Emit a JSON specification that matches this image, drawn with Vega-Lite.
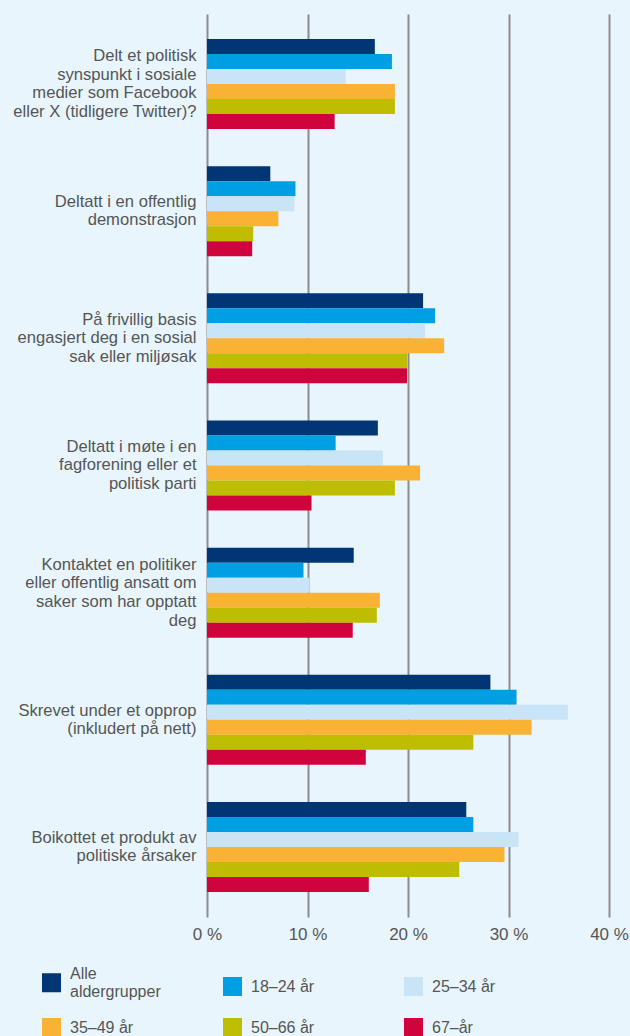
{
  "$schema": "https://vega.github.io/schema/vega-lite/v6.json",
  "autosize": "none",
  "width": 402,
  "height": 903,
  "padding": {"left": 207, "top": 14, "right": 21, "bottom": 119},
  "background": "#e8f5fc",
  "config": {
    "view": {"stroke": null},
    "font": "Liberation Sans",
    "axis": {"labelFont": "Liberation Sans", "labelColor": "#555555"},
    "legend": {"labelFont": "Liberation Sans", "labelColor": "#555555"}
  },
  "data": {
    "values": [
      {"q": "Delt et politisk|synspunkt i sosiale|medier som Facebook|eller X (tidligere Twitter)?", "g": "Alle aldergrupper", "v": 16.7},
      {"q": "Delt et politisk|synspunkt i sosiale|medier som Facebook|eller X (tidligere Twitter)?", "g": "18–24 år", "v": 18.4},
      {"q": "Delt et politisk|synspunkt i sosiale|medier som Facebook|eller X (tidligere Twitter)?", "g": "25–34 år", "v": 13.8},
      {"q": "Delt et politisk|synspunkt i sosiale|medier som Facebook|eller X (tidligere Twitter)?", "g": "35–49 år", "v": 18.7},
      {"q": "Delt et politisk|synspunkt i sosiale|medier som Facebook|eller X (tidligere Twitter)?", "g": "50–66 år", "v": 18.7},
      {"q": "Delt et politisk|synspunkt i sosiale|medier som Facebook|eller X (tidligere Twitter)?", "g": "67–år", "v": 12.7},
      {"q": "Deltatt i en offentlig|demonstrasjon", "g": "Alle aldergrupper", "v": 6.3},
      {"q": "Deltatt i en offentlig|demonstrasjon", "g": "18–24 år", "v": 8.8},
      {"q": "Deltatt i en offentlig|demonstrasjon", "g": "25–34 år", "v": 8.7},
      {"q": "Deltatt i en offentlig|demonstrasjon", "g": "35–49 år", "v": 7.1},
      {"q": "Deltatt i en offentlig|demonstrasjon", "g": "50–66 år", "v": 4.6},
      {"q": "Deltatt i en offentlig|demonstrasjon", "g": "67–år", "v": 4.5},
      {"q": "På frivillig basis|engasjert deg i en sosial|sak eller miljøsak", "g": "Alle aldergrupper", "v": 21.5},
      {"q": "På frivillig basis|engasjert deg i en sosial|sak eller miljøsak", "g": "18–24 år", "v": 22.7},
      {"q": "På frivillig basis|engasjert deg i en sosial|sak eller miljøsak", "g": "25–34 år", "v": 21.7},
      {"q": "På frivillig basis|engasjert deg i en sosial|sak eller miljøsak", "g": "35–49 år", "v": 23.6},
      {"q": "På frivillig basis|engasjert deg i en sosial|sak eller miljøsak", "g": "50–66 år", "v": 19.9},
      {"q": "På frivillig basis|engasjert deg i en sosial|sak eller miljøsak", "g": "67–år", "v": 19.9},
      {"q": "Deltatt i møte i en|fagforening eller et|politisk parti", "g": "Alle aldergrupper", "v": 17.0},
      {"q": "Deltatt i møte i en|fagforening eller et|politisk parti", "g": "18–24 år", "v": 12.8},
      {"q": "Deltatt i møte i en|fagforening eller et|politisk parti", "g": "25–34 år", "v": 17.5},
      {"q": "Deltatt i møte i en|fagforening eller et|politisk parti", "g": "35–49 år", "v": 21.2},
      {"q": "Deltatt i møte i en|fagforening eller et|politisk parti", "g": "50–66 år", "v": 18.7},
      {"q": "Deltatt i møte i en|fagforening eller et|politisk parti", "g": "67–år", "v": 10.4},
      {"q": "Kontaktet en politiker|eller offentlig ansatt om|saker som har opptatt|deg", "g": "Alle aldergrupper", "v": 14.6},
      {"q": "Kontaktet en politiker|eller offentlig ansatt om|saker som har opptatt|deg", "g": "18–24 år", "v": 9.6},
      {"q": "Kontaktet en politiker|eller offentlig ansatt om|saker som har opptatt|deg", "g": "25–34 år", "v": 10.2},
      {"q": "Kontaktet en politiker|eller offentlig ansatt om|saker som har opptatt|deg", "g": "35–49 år", "v": 17.2},
      {"q": "Kontaktet en politiker|eller offentlig ansatt om|saker som har opptatt|deg", "g": "50–66 år", "v": 16.9},
      {"q": "Kontaktet en politiker|eller offentlig ansatt om|saker som har opptatt|deg", "g": "67–år", "v": 14.5},
      {"q": "Skrevet under et opprop|(inkludert på nett)", "g": "Alle aldergrupper", "v": 28.2},
      {"q": "Skrevet under et opprop|(inkludert på nett)", "g": "18–24 år", "v": 30.8},
      {"q": "Skrevet under et opprop|(inkludert på nett)", "g": "25–34 år", "v": 35.9},
      {"q": "Skrevet under et opprop|(inkludert på nett)", "g": "35–49 år", "v": 32.3},
      {"q": "Skrevet under et opprop|(inkludert på nett)", "g": "50–66 år", "v": 26.5},
      {"q": "Skrevet under et opprop|(inkludert på nett)", "g": "67–år", "v": 15.8},
      {"q": "Boikottet et produkt av|politiske årsaker", "g": "Alle aldergrupper", "v": 25.8},
      {"q": "Boikottet et produkt av|politiske årsaker", "g": "18–24 år", "v": 26.5},
      {"q": "Boikottet et produkt av|politiske årsaker", "g": "25–34 år", "v": 31.0},
      {"q": "Boikottet et produkt av|politiske årsaker", "g": "35–49 år", "v": 29.6},
      {"q": "Boikottet et produkt av|politiske årsaker", "g": "50–66 år", "v": 25.1},
      {"q": "Boikottet et produkt av|politiske årsaker", "g": "67–år", "v": 16.1}
    ]
  },
  "mark": {"type": "bar"},
  "encoding": {
    "y": {
      "field": "q",
      "type": "nominal",
      "sort": null,
      "scale": {"paddingInner": 0.2923, "paddingOuter": 0.1966},
      "axis": {
        "title": null,
        "domain": false,
        "ticks": false,
        "labelExpr": "split(datum.label, '|')",
        "labelPadding": 11,
        "labelFontSize": 16.6,
        "labelLineHeight": 18.6,
        "labelLimit": 300,
        "labelAlign": "right",
        "labelBaseline": "middle",
        "labelOffset": {
          "condition": [
            {"test": "length(split(datum.label, '|')) == 4", "value": -27.9},
            {"test": "length(split(datum.label, '|')) == 3", "value": -18.6},
            {"test": "length(split(datum.label, '|')) == 2", "value": -9.3}
          ],
          "value": 0
        }
      }
    },
    "yOffset": {
      "field": "g",
      "type": "nominal",
      "sort": ["Alle aldergrupper", "18–24 år", "25–34 år", "35–49 år", "50–66 år", "67–år"],
      "scale": {"paddingInner": 0, "paddingOuter": 0}
    },
    "x": {
      "field": "v",
      "type": "quantitative",
      "scale": {"domain": [0, 40], "nice": false},
      "axis": {
        "title": null,
        "values": [0, 10, 20, 30, 40],
        "labelExpr": "datum.value + ' %'",
        "labelFlush": false,
        "grid": true,
        "gridColor": "#8c8c8c",
        "gridWidth": 2,
        "domain": false,
        "ticks": false,
        "labelPadding": 9,
        "labelFontSize": 17
      }
    },
    "color": {
      "field": "g",
      "type": "nominal",
      "scale": {
        "domain": ["Alle aldergrupper", "18–24 år", "25–34 år", "35–49 år", "50–66 år", "67–år"],
        "range": ["#003673", "#009fe3", "#c8e4f6", "#f9b233", "#bfbd00", "#d0043c"]
      },
      "legend": {
        "title": null,
        "orient": "none",
        "legendX": -165,
        "legendY": 959,
        "direction": "horizontal",
        "columns": 3,
        "gridAlign": "all",
        "columnPadding": 62,
        "rowPadding": 18,
        "symbolType": "square",
        "symbolSize": 361,
        "symbolStrokeWidth": 0,
        "symbolOpacity": 1,
        "labelFontSize": 16,
        "labelOffset": 9,
        "labelLimit": 200,
        "labelExpr": "datum.label == 'Alle aldergrupper' ? ['Alle', 'aldergrupper'] : datum.label",
        "encoding": {
          "labels": {
            "dy": {
              "condition": {"test": "datum.value == 'Alle aldergrupper'", "value": -9},
              "value": 0
            }
          }
        }
      }
    }
  }
}
